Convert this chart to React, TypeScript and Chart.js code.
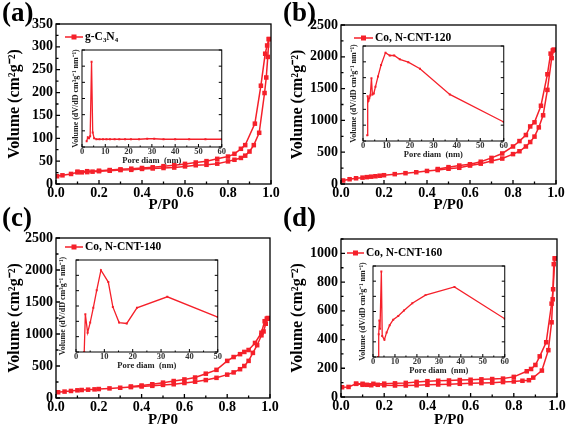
import React, { useEffect, useRef } from 'react';
import { Chart, registerables } from 'chart.js';

Chart.register(...registerables);

const SERIF = "'Liberation Serif', 'Times New Roman', serif";
const RED = 'rgb(245,32,42)';

// ---------- shared tick labels ----------
const P_TICKS = [0, 0.2, 0.4, 0.6, 0.8, 1.0];
const PORE_TICKS_60 = [0, 10, 20, 30, 40, 50, 60];
const PORE_TICKS_50 = [0, 10, 20, 30, 40, 50];

// ---------- (a) g-C3N4 ----------
const A_LABEL = 'g-C₃N₄';
const A_Y_TICKS = [0, 50, 100, 150, 200, 250, 300, 350];
const A_ADS_P = [0.005, 0.03, 0.07, 0.1, 0.12, 0.145, 0.17, 0.2, 0.25, 0.3, 0.35, 0.4, 0.45, 0.5, 0.55, 0.6, 0.65, 0.7, 0.75, 0.8, 0.83, 0.86, 0.88, 0.9, 0.92, 0.945, 0.97, 0.978, 0.985, 0.99];
const A_ADS_V = [17, 19, 22, 25.5, 25.5, 26, 27, 28, 29, 30.5, 31, 33, 34, 35, 36, 38.5, 41, 42, 44.5, 49.5, 53, 57, 62, 71, 85, 112, 199, 233, 278, 317];
const A_DES_P = [0.99, 0.982, 0.973, 0.953, 0.925, 0.88, 0.86, 0.83, 0.8, 0.75, 0.7, 0.65, 0.6, 0.55, 0.5, 0.45, 0.4, 0.35, 0.3, 0.25, 0.2, 0.145, 0.1];
const A_DES_V = [317, 303, 285, 215, 132, 85, 77, 66, 60, 55, 50, 47, 44, 41, 39, 36.5, 35, 33.5, 32, 30.5, 29, 28, 27];
const A_PORE_D = [2.0, 2.5, 3.0, 3.5, 4.1, 4.6, 5.2, 6.2, 7.5, 9, 10.5, 12, 14, 16, 18.5, 21, 24.5, 28, 31, 35, 40, 46, 53, 60];
const A_PORE_V = [6, 10, 9, 11, 88, 15, 9, 8, 8, 8, 8, 8, 8, 8, 8, 8, 8, 8.5, 8.5, 8, 8, 8, 8, 8];

// ---------- (b) Co, N-CNT-120 ----------
const B_LABEL = 'Co, N-CNT-120';
const B_Y_TICKS = [0, 500, 1000, 1500, 2000, 2500];
const B_ADS_P = [0.01, 0.04, 0.07, 0.1, 0.12, 0.14, 0.16, 0.18, 0.2, 0.25, 0.3, 0.35, 0.4, 0.45, 0.5, 0.55, 0.6, 0.65, 0.7, 0.75, 0.8, 0.83, 0.86, 0.88, 0.9, 0.92, 0.94, 0.96, 0.98, 0.99];
const B_ADS_V = [55, 75, 90, 100, 108, 115, 122, 130, 138, 155, 170, 185, 205, 220, 240, 255, 290, 320, 360, 400, 470, 515, 590, 660, 745, 890, 1080, 1480, 1980, 2110];
const B_DES_P = [0.99, 0.985, 0.975, 0.96, 0.93, 0.9, 0.88, 0.86, 0.83, 0.8, 0.75, 0.7, 0.65, 0.6, 0.55, 0.5, 0.45];
const B_DES_V = [2110, 2100, 2050, 1725, 1230, 970, 905, 770, 675, 590, 480, 410, 350, 310, 290, 265, 235];
const B_PORE_D = [1.8, 2.0, 2.3, 2.7, 3.1, 3.6, 4.0, 4.6, 5.3, 6.4, 7.7, 9.6, 11.4, 13.3, 15.7, 19.3, 24.3, 37, 60];
const B_PORE_V = [6, 47, 42, 45, 48, 66, 49, 50, 57, 68, 80, 93, 90, 90, 86, 83, 76, 49, 20];

// ---------- (c) Co, N-CNT-140 ----------
const C_LABEL = 'Co, N-CNT-140';
const C_Y_TICKS = [0, 500, 1000, 1500, 2000, 2500];
const C_ADS_P = [0.01, 0.04, 0.07, 0.1, 0.12, 0.15, 0.18, 0.2, 0.25, 0.3, 0.35, 0.4, 0.45, 0.5, 0.55, 0.6, 0.65, 0.7, 0.75, 0.8, 0.83, 0.86, 0.88, 0.9, 0.92, 0.94, 0.96, 0.97, 0.98, 0.99];
const C_ADS_V = [90, 100, 110, 120, 125, 130, 135, 140, 150, 160, 170, 180, 190, 205, 215, 235, 255, 280, 315, 365, 400, 450, 500, 580, 705, 825, 980, 1040, 1160, 1240];
const C_DES_P = [0.99, 0.985, 0.975, 0.96, 0.93, 0.9, 0.88, 0.86, 0.83, 0.8, 0.75, 0.7, 0.65, 0.6, 0.55, 0.5, 0.45, 0.4, 0.35];
const C_DES_V = [1250, 1240, 1200, 1020, 860, 750, 720, 685, 640, 580, 440, 380, 320, 290, 265, 240, 215, 195, 180];
const C_PORE_D = [2.9, 3.3, 4.1, 5.0, 6.1, 7.3, 8.8, 11.4, 13.0, 15.2, 17.9, 21.5, 32.2, 50];
const C_PORE_V = [0, 41, 21, 32, 48, 67, 89, 76, 49, 32, 31, 48, 60, 38];

// ---------- (d) Co, N-CNT-160 ----------
const D_LABEL = 'Co, N-CNT-160';
const D_Y_TICKS = [0, 200, 400, 600, 800, 1000];
const D_ADS_P = [0.005, 0.035, 0.07, 0.1, 0.12, 0.14, 0.17, 0.2, 0.25, 0.3, 0.35, 0.4, 0.45, 0.5, 0.55, 0.6, 0.65, 0.7, 0.75, 0.8, 0.84, 0.87, 0.89, 0.93, 0.96, 0.975, 0.98, 0.985, 0.99];
const D_ADS_V = [68, 70, 92, 85, 85, 82, 85, 82, 80, 80, 82, 85, 87, 89, 92, 95, 97, 100, 104, 108, 113, 117, 135, 184, 326, 520, 680, 925, 965];
const D_DES_P = [0.99, 0.982, 0.975, 0.95, 0.92, 0.9, 0.88, 0.86, 0.8, 0.75, 0.7, 0.65, 0.6, 0.55, 0.5, 0.45, 0.4, 0.35, 0.3, 0.25, 0.2, 0.15, 0.1, 0.07];
const D_DES_V = [965, 750, 650, 381, 283, 223, 195, 179, 140, 128, 125, 123, 120, 118, 115, 113, 110, 105, 98, 95, 93, 92, 92, 92];
const D_PORE_D = [2.3, 2.6, 2.9, 3.2, 3.8, 4.2, 5.2, 6.2, 7.6, 9.2, 11.5, 14.1, 17.9, 23.9, 37.1, 60];
const D_PORE_V = [0, 25, 40, 31, 94, 23, 19, 27, 35, 41, 45, 51, 59, 68, 77, 42];

const zip = (xs: number[], ys: number[]) => xs.map((x, i) => ({ x, y: ys[i] }));

// ---------- plugins ----------
const framePlugin = {
  id: 'frame',
  beforeDraw(chart: any, _a: any, opts: any) {
    if (!opts.fill) return;
    const { ctx, chartArea: a } = chart;
    ctx.save();
    ctx.fillStyle = opts.fill;
    ctx.fillRect(a.left, a.top, a.right - a.left, a.bottom - a.top);
    ctx.restore();
  },
  afterDraw(chart: any, _a: any, opts: any) {
    const { ctx, chartArea: a, scales } = chart;
    ctx.save();
    ctx.strokeStyle = '#000';
    ctx.lineWidth = opts.lw;
    ctx.beginPath();
    const xs = scales.x;
    const ys = scales.y;
    const nx = Math.round((xs.max - xs.min) / opts.xMinor);
    for (let i = 0; i <= nx; i++) {
      const v = xs.min + i * opts.xMinor;
      const px = xs.getPixelForValue(v);
      const len = i % opts.xRatio === 0 ? opts.major : opts.minor;
      ctx.moveTo(px, a.bottom);
      ctx.lineTo(px, a.bottom - len);
    }
    const ny = Math.round((ys.max - ys.min) / opts.yMinor);
    for (let i = 0; i <= ny; i++) {
      const v = ys.min + i * opts.yMinor;
      const py = ys.getPixelForValue(v);
      const len = i % opts.yRatio === 0 ? opts.major : opts.minor;
      ctx.moveTo(a.left, py);
      ctx.lineTo(a.left + len, py);
      if (opts.right) {
        ctx.moveTo(a.right, py);
        ctx.lineTo(a.right - len, py);
      }
    }
    ctx.stroke();
    ctx.strokeRect(a.left, a.top, a.right - a.left, a.bottom - a.top);
    ctx.restore();
  },
};

const legendPlugin = {
  id: 'lg',
  afterDatasetsDraw(chart: any, _a: any, opts: any) {
    if (!opts.text) return;
    const { ctx, chartArea: a } = chart;
    const x1 = a.left + opts.x1;
    const x2 = a.left + opts.x2;
    const y = a.top + opts.dy;
    ctx.save();
    ctx.strokeStyle = RED;
    ctx.lineWidth = 1.5;
    ctx.beginPath();
    ctx.moveTo(x1, y);
    ctx.lineTo(x2, y);
    ctx.stroke();
    ctx.fillStyle = RED;
    ctx.fillRect((x1 + x2) / 2 - 2.5, y - 2.5, 5, 5);
    ctx.fillStyle = '#000';
    ctx.font = `bold 11.5px ${SERIF}`;
    ctx.textBaseline = 'middle';
    ctx.textAlign = 'left';
    ctx.fillText(opts.text, a.left + opts.tx, y + 0.5);
    ctx.restore();
  },
};

// ---------- configs ----------
type MainSpec = {
  label: string;
  yTicks: number[];
  yMax: number;
  yMinor: number;
  adsP: number[]; adsV: number[]; desP: number[]; desV: number[];
  padTop: number; padRight: number; yw: number; xh: number;
  lg: { x1: number; x2: number; tx: number; dy: number };
};

function seriesStyle() {
  return {
    showLine: true,
    borderColor: RED,
    backgroundColor: RED,
    borderWidth: 1.5,
    pointStyle: 'rect',
    pointRadius: 3.2,
    pointBorderWidth: 0,
    tension: 0,
  };
}

function mainConfig(s: MainSpec): any {
  return {
    type: 'scatter',
    data: {
      datasets: [
        { label: s.label, data: zip(s.adsP, s.adsV), ...seriesStyle() },
        { label: s.label + ' desorption', data: zip(s.desP, s.desV), ...seriesStyle() },
      ],
    },
    options: {
      responsive: false,
      animation: false,
      events: [],
      layout: { padding: { top: s.padTop, right: s.padRight, left: 0, bottom: 0 } },
      plugins: {
        legend: { display: false },
        tooltip: { enabled: false },
        frame: { lw: 1.3, xMinor: 0.1, xRatio: 2, yMinor: s.yMinor, yRatio: 2, major: 4, minor: 2.5, right: false },
        lg: { text: s.label, ...s.lg },
      },
      scales: {
        x: {
          type: 'linear', min: 0, max: 1,
          grid: { display: false, drawTicks: false },
          border: { display: false },
          afterBuildTicks: (sc: any) => { sc.ticks = P_TICKS.map((v) => ({ value: v })); },
          afterFit: (sc: any) => { sc.height = s.xh; },
          ticks: {
            autoSkip: false, maxRotation: 0, padding: 1, color: '#000',
            font: { family: SERIF, size: 14, weight: 'bold' },
            callback: (v: any) => Number(v).toFixed(1),
          },
          title: {
            display: true, text: 'P/P0', color: '#000',
            font: { family: SERIF, size: 15, weight: 'bold' },
            padding: { top: 0, bottom: 1 },
          },
        },
        y: {
          type: 'linear', min: 0, max: s.yMax,
          grid: { display: false, drawTicks: false },
          border: { display: false },
          afterBuildTicks: (sc: any) => { sc.ticks = s.yTicks.map((v) => ({ value: v })); },
          afterFit: (sc: any) => { sc.width = s.yw; },
          ticks: {
            autoSkip: false, padding: 3, color: '#000',
            font: { family: SERIF, size: 14, weight: 'bold' },
            callback: (v: any) => String(v),
          },
          title: {
            display: true, text: 'Volume (cm²g⁻²)', color: '#000',
            font: { family: SERIF, size: 16, weight: 'bold' },
            padding: { top: 5, bottom: 0 },
          },
        },
      },
    },
    plugins: [framePlugin, legendPlugin],
  };
}

type InsetSpec = {
  d: number[]; v: number[]; xMax: number; xTicks: number[]; yw: number;
};

function insetConfig(s: InsetSpec): any {
  return {
    type: 'scatter',
    data: {
      datasets: [
        {
          label: 'pore', data: zip(s.d, s.v), showLine: true,
          borderColor: RED, backgroundColor: RED, borderWidth: 1.3,
          pointStyle: 'rect', pointRadius: 1.4, pointBorderWidth: 0, tension: 0,
        },
      ],
    },
    options: {
      responsive: false,
      animation: false,
      events: [],
      layout: { padding: { top: 2, right: 3, left: 0, bottom: 0 } },
      plugins: {
        legend: { display: false },
        tooltip: { enabled: false },
        frame: { fill: '#fff', lw: 1, xMinor: 5, xRatio: 2, yMinor: 100 / 6, yRatio: 1, major: 3, minor: 1.5, right: true },
        lg: { text: '' },
      },
      scales: {
        x: {
          type: 'linear', min: 0, max: s.xMax,
          grid: { display: false, drawTicks: false },
          border: { display: false },
          afterBuildTicks: (sc: any) => { sc.ticks = s.xTicks.map((v) => ({ value: v })); },
          afterFit: (sc: any) => { sc.height = 22; },
          ticks: {
            autoSkip: false, maxRotation: 0, padding: 0, color: '#333',
            font: { family: SERIF, size: 8.5, weight: 'bold' },
            callback: (v: any) => String(v),
          },
          title: {
            display: true, text: 'Pore diam  (nm)', color: '#222',
            font: { family: SERIF, size: 8.5, weight: 'bold' },
            padding: { top: 0, bottom: 3 },
          },
        },
        y: {
          type: 'linear', min: 0, max: 100,
          grid: { display: false, drawTicks: false },
          border: { display: false },
          afterFit: (sc: any) => { sc.width = s.yw; },
          ticks: { display: false },
          title: {
            display: true, text: 'Volume (dV/dD cm³g⁻¹ nm⁻¹)', color: '#222',
            font: { family: SERIF, size: 8, weight: 'bold' },
            padding: { top: 0, bottom: 0 },
          },
        },
      },
    },
    plugins: [framePlugin, legendPlugin],
  };
}

function ChartCanvas({ left, top, width, height, make }: { left: number; top: number; width: number; height: number; make: () => any }) {
  const ref = useRef<HTMLCanvasElement | null>(null);
  useEffect(() => {
    if (!ref.current) return;
    const chart = new Chart(ref.current, make());
    return () => chart.destroy();
  }, []);
  return (
    <canvas
      ref={ref}
      width={width}
      height={height}
      style={{ position: 'absolute', left, top, width, height, display: 'block' }}
    />
  );
}

function Letter({ text, left, top }: { text: string; left: number; top: number }) {
  return (
    <div
      style={{
        position: 'absolute', left, top, height: 28, lineHeight: '28px',
        font: `bold 27px ${SERIF}`, color: '#000', whiteSpace: 'nowrap',
      }}
    >
      {text}
    </div>
  );
}

export default function App() {
  const A: MainSpec = {
    label: A_LABEL, yTicks: A_Y_TICKS, yMax: 350, yMinor: 25,
    adsP: A_ADS_P, adsV: A_ADS_V, desP: A_DES_P, desV: A_DES_V,
    padTop: 24, padRight: 12, yw: 56, xh: 31,
    lg: { x1: 9, x2: 27, tx: 29, dy: 13 },
  };
  const B: MainSpec = {
    label: B_LABEL, yTicks: B_Y_TICKS, yMax: 2500, yMinor: 250,
    adsP: B_ADS_P, adsV: B_ADS_V, desP: B_DES_P, desV: B_DES_V,
    padTop: 25, padRight: 11, yw: 58, xh: 31,
    lg: { x1: 13, x2: 32, tx: 34, dy: 13 },
  };
  const C: MainSpec = {
    label: C_LABEL, yTicks: C_Y_TICKS, yMax: 2500, yMinor: 250,
    adsP: C_ADS_P, adsV: C_ADS_V, desP: C_DES_P, desV: C_DES_V,
    padTop: 23, padRight: 13, yw: 56, xh: 32,
    lg: { x1: 9, x2: 27, tx: 29, dy: 9 },
  };
  const D: MainSpec = {
    label: D_LABEL, yTicks: D_Y_TICKS, yMax: 1100, yMinor: 100,
    adsP: D_ADS_P, adsV: D_ADS_V, desP: D_DES_P, desV: D_DES_V,
    padTop: 24, padRight: 10, yw: 58, xh: 33,
    lg: { x1: 6, x2: 23, tx: 25, dy: 14 },
  };

  return (
    <div style={{ position: 'absolute', left: 0, top: 0, width: 567, height: 430, background: '#fff', overflow: 'hidden' }}>
      <ChartCanvas left={0} top={0} width={283} height={215} make={() => mainConfig(A)} />
      <ChartCanvas left={283} top={0} width={284} height={215} make={() => mainConfig(B)} />
      <ChartCanvas left={0} top={215} width={283} height={215} make={() => mainConfig(C)} />
      <ChartCanvas left={283} top={215} width={284} height={215} make={() => mainConfig(D)} />

      <ChartCanvas left={71} top={46} width={155} height={123}
        make={() => insetConfig({ d: A_PORE_D, v: A_PORE_V, xMax: 60, xTicks: PORE_TICKS_60, yw: 11 })} />
      <ChartCanvas left={349} top={42} width={159} height={121}
        make={() => insetConfig({ d: B_PORE_D, v: B_PORE_V, xMax: 60, xTicks: PORE_TICKS_60, yw: 14 })} />
      <ChartCanvas left={58} top={256} width={164} height={118}
        make={() => insetConfig({ d: C_PORE_D, v: C_PORE_V, xMax: 50, xTicks: PORE_TICKS_50, yw: 18 })} />
      <ChartCanvas left={358} top={262} width={151} height={117}
        make={() => insetConfig({ d: D_PORE_D, v: D_PORE_V, xMax: 60, xTicks: PORE_TICKS_60, yw: 15 })} />

      <Letter text="(a)" left={2} top={-3} />
      <Letter text="(b)" left={283} top={-3} />
      <Letter text="(c)" left={2} top={202} />
      <Letter text="(d)" left={283} top={202} />
    </div>
  );
}
